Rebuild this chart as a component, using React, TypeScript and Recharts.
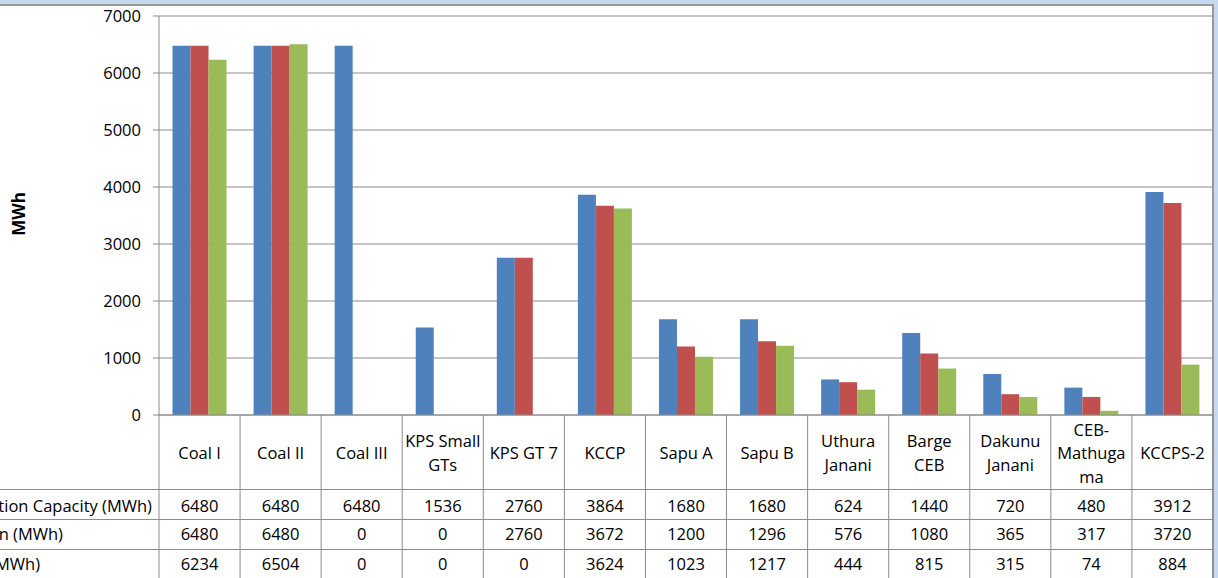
import { BarChart, Bar, XAxis, YAxis, CartesianGrid } from "recharts";

// plant names, "\n" marks where the table cell wraps
const categories = [
  "Coal I",
  "Coal II",
  "Coal III",
  "KPS Small\nGTs",
  "KPS GT 7",
  "KCCP",
  "Sapu A",
  "Sapu B",
  "Uthura\nJanani",
  "Barge\nCEB",
  "Dakunu\nJanani",
  "CEB-\nMathuga\nma",
  "KCCPS-2",
];

const capacity = [6480, 6480, 6480, 1536, 2760, 3864, 1680, 1680, 624, 1440, 720, 480, 3912];
const scheduled = [6480, 6480, 0, 0, 2760, 3672, 1200, 1296, 576, 1080, 365, 317, 3720];
const actual = [6234, 6504, 0, 0, 0, 3624, 1023, 1217, 444, 815, 315, 74, 884];

const seriesNames = ["Generation Capacity (MWh)", "Scheduled Generation (MWh)", "Actual Generation (MWh)"];
const seriesColors = ["#4F81BD", "#C0504D", "#9BBB59"];
const yTicks = [0, 1000, 2000, 3000, 4000, 5000, 6000, 7000];

const data = categories.map((name, i) => ({
  name,
  capacity: capacity[i],
  scheduled: scheduled[i],
  actual: actual[i],
}));

const W = 1218;
const H = 578;
const PLOT_LEFT = 159;
const PLOT_RIGHT = 1213;
const AXIS_H = 163;
const PLOT_BOTTOM = H - AXIS_H;
const BAND = (PLOT_RIGHT - PLOT_LEFT) / categories.length;
const GRID = "#8c8c8c";
const FONT = "'Open Sans', sans-serif";
const FS = 16.5;

// data table layout below the axis
const ROW_LINES = [489.5, 519.5, 549.5];
const ROW_BASE = [511.7, 540, 570];
const NAME_ENDS = [152, 63, 40];

function TableTick(props: any) {
  const { x, payload, index } = props;
  const i = index;
  const lines = String(payload.value).split("\n");
  const left = x - BAND / 2;
  const rows = [capacity[i], scheduled[i], actual[i]];

  return (
    <g>
      <line x1={left} x2={left} y1={PLOT_BOTTOM} y2={H} stroke={GRID} />
      {i === categories.length - 1 && (
        <line x1={left + BAND} x2={left + BAND} y1={PLOT_BOTTOM} y2={H} stroke={GRID} />
      )}
      {i === 0 && (
        <g>
          {ROW_LINES.map((y) => (
            <line key={y} x1={0} x2={PLOT_RIGHT} y1={y} y2={y} stroke={GRID} />
          ))}
          {seriesNames.map((s, r) => (
            <text key={s} x={NAME_ENDS[r]} y={ROW_BASE[r]} textAnchor="end" fontSize={FS} fill="#000">
              {s}
            </text>
          ))}
        </g>
      )}
      <text textAnchor="middle" fontSize={FS} fill="#000">
        {lines.map((l, k) => (
          <tspan key={k} x={x} y={459 + (k - (lines.length - 1) / 2) * 23.5}>
            {l}
          </tspan>
        ))}
      </text>
      {rows.map((v, r) => (
        <text key={r} x={x} y={ROW_BASE[r]} textAnchor="middle" fontSize={FS} fill="#000">
          {v}
        </text>
      ))}
    </g>
  );
}

export default function App() {
  return (
    <div
      style={{
        position: "fixed",
        left: 0,
        top: 0,
        width: W,
        height: H,
        overflow: "hidden",
        background: "#C6D9F1",
        fontFamily: FONT,
      }}
    >
      <div
        style={{
          position: "absolute",
          left: -10,
          top: 4,
          width: 1222,
          height: 600,
          background: "#fff",
          borderTop: "2px solid #999",
          borderRight: "2px solid #999",
        }}
      />
      <div style={{ position: "absolute", left: 0, top: 0 }}>
        <BarChart
          width={W}
          height={H}
          data={data}
          margin={{ top: 16, right: W - PLOT_RIGHT, left: 0, bottom: 0 }}
          barCategoryGap="16.67%"
          barGap={0}
        >
          <CartesianGrid horizontal vertical={false} stroke={GRID} />
          <XAxis
            dataKey="name"
            height={AXIS_H}
            interval={0}
            tickLine={false}
            axisLine={{ stroke: GRID }}
            tick={(p: any) => <TableTick {...p} />}
          />
          <YAxis
            width={PLOT_LEFT}
            domain={[0, 7000]}
            ticks={yTicks}
            tickSize={6}
            tickMargin={12}
            axisLine={{ stroke: GRID }}
            tickLine={{ stroke: GRID }}
            tick={{ fill: "#000", fontSize: FS }}
            label={{
              content: () => (
                <text
                  x={18}
                  y={214}
                  transform="rotate(-90 18 214)"
                  textAnchor="middle"
                  dominantBaseline="central"
                  fontWeight="bold"
                  fontSize={17}
                  fill="#000"
                >
                  MWh
                </text>
              ),
            }}
          />
          <Bar dataKey="capacity" name={seriesNames[0]} fill={seriesColors[0]} isAnimationActive={false} />
          <Bar dataKey="scheduled" name={seriesNames[1]} fill={seriesColors[1]} isAnimationActive={false} />
          <Bar dataKey="actual" name={seriesNames[2]} fill={seriesColors[2]} isAnimationActive={false} />
        </BarChart>
      </div>
    </div>
  );
}
